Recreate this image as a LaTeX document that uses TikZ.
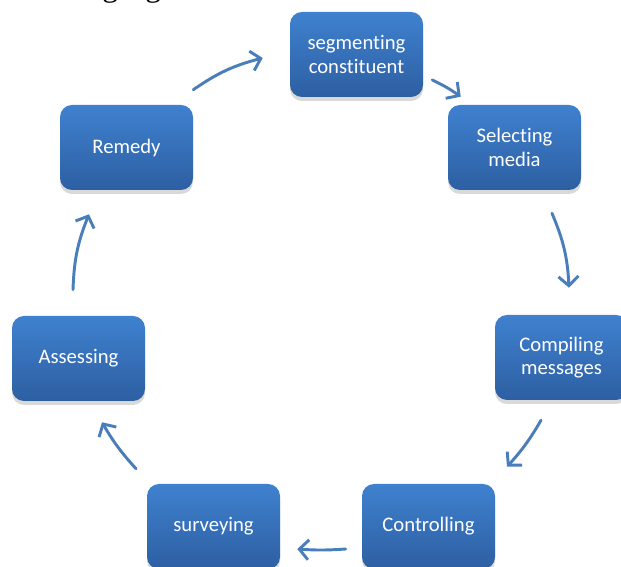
\documentclass[tikz,border=0pt]{standalone}
\usepackage{fontspec}
\setmainfont{Carlito}[Ligatures={NoCommon}]
\newfontfamily\bodyfont{Liberation Serif}
\usetikzlibrary{arrows.meta,shadows}
\definecolor{cyTop}{HTML}{3F81CF}
\definecolor{cyBottom}{HTML}{2D5FA2}
\definecolor{cyArrow}{HTML}{4A7EBB}
\definecolor{cyWhite}{HTML}{FFFFFF}

\begin{document}
\begin{tikzpicture}[
    x=0.75pt, y=0.75pt,
    box/.style={rounded corners=9pt, top color=cyTop, bottom color=cyBottom, text=cyWhite, minimum width=99.75pt, minimum height=63.75pt, align=center, font=\fontsize{15.5}{17.5}\selectfont, drop shadow={opacity=0.3, shadow xshift=0pt, shadow yshift=-3pt}},
    arrow/.style={-{Straight Barb[length=7pt,width=15pt]}, line width=2.2pt, cyArrow, line cap=round}
]
    \useasboundingbox (0,0) rectangle (621,567);

    \node[font=\bodyfont\fontsize{23.7}{28}\selectfont, anchor=base west, inner sep=0pt] (caption) at (-5,570) {following figure.};

    \node[box] (segment) at (356.5,512.5) {segmenting\\constituent};
    \node[box] (select) at (514.5,419.5) {Selecting\\media};
    \node[box] (compile) at (561.5,209.5) {Compiling\\messages};
    \node[box] (control) at (428.5,40.5) {Controlling};
    \node[box] (survey) at (213.5,40.5) {surveying};
    \node[box] (assess) at (78.5,208.5) {Assessing};
    \node[box] (remedy) at (126.5,419.5) {Remedy};

    \draw[arrow] ([shift={(0,15)}]remedy.north east) to[bend left=10] ([shift={(-27,-3.5)}]segment.west);
    \draw[arrow] ([shift={(9,-25.5)}]segment.east) to[bend left=5] ([shift={(13,8)}]select.north west);
    \draw[arrow] ([shift={(37.5,-23)}]select.south) to[bend left=10] ([shift={(7.5,27)}]compile.north);
    \draw[arrow] ([shift={(-20.5,-20)}]compile.south) to[bend left=6] ([shift={(78.5,17)}]control.north);
    \draw[arrow] ([shift={(-16,-22.5)}]control.west) to[bend left=4] ([shift={(17,-22.5)}]survey.east);
    \draw[arrow] ([shift={(-77.5,15)}]survey.north) to[bend left=6] ([shift={(23.5,-21)}]assess.south);
    \draw[arrow] ([shift={(-5.5,26)}]assess.north) to[bend left=10] ([shift={(-37.5,-24)}]remedy.south);
\end{tikzpicture}
\end{document}
